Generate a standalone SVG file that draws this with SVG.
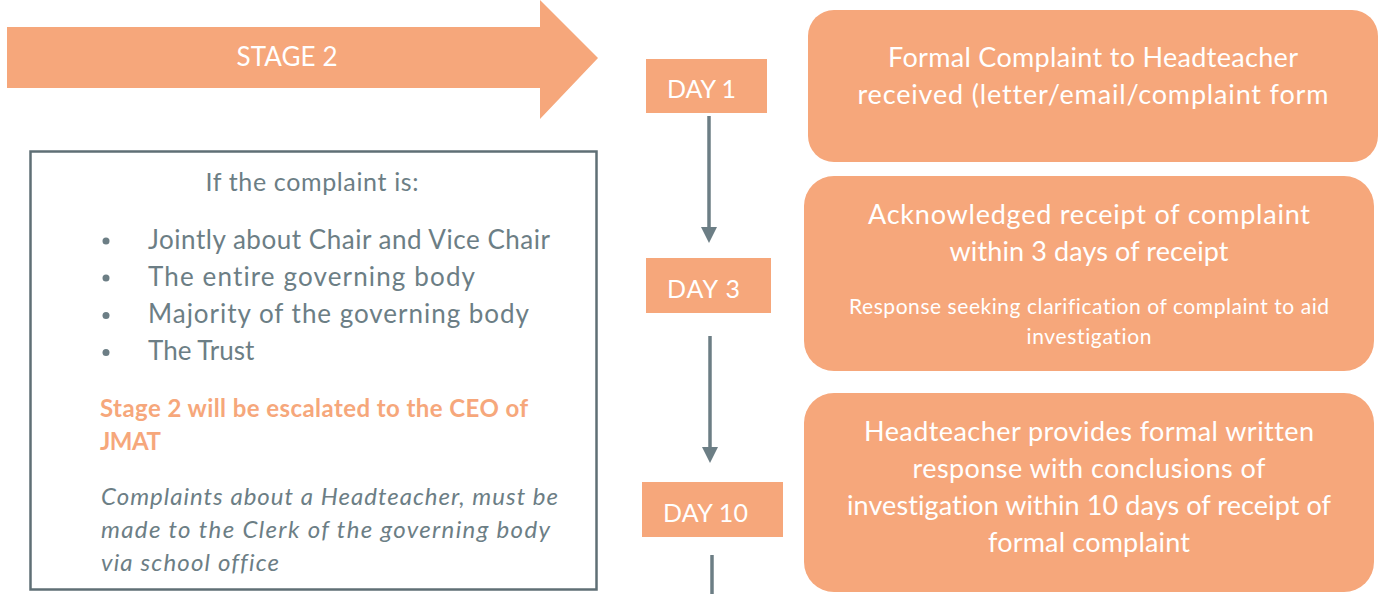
<svg xmlns="http://www.w3.org/2000/svg" width="1381" height="594" viewBox="0 0 1381 594">
<style>
text{font-variant-ligatures:none}
.fill{fill:#F6A77B}
.w{fill:#FFFFFF;font-family:Lato,"Liberation Sans",sans-serif;text-anchor:middle}
.g{fill:#6C7E85;font-family:Lato,"Liberation Sans",sans-serif}
.o{fill:#F6A77B;font-family:Lato,"Liberation Sans",sans-serif;font-weight:bold}
.conn{stroke:#6C7E85;stroke-width:3.5;fill:none}
</style>
<defs>
<marker id="ah" viewBox="0 0 10 10" refX="5" refY="5" markerWidth="4.6" markerHeight="4.6" orient="auto" markerUnits="strokeWidth">
<path d="M0,0 L10,5 L0,10 z" fill="#6C7E85"/>
</marker>
</defs>
<rect width="1381" height="594" fill="#FFFFFF"/>
<g id="stage2">
<path class="fill" d="M7,27 H540 V0 L598,58 L540,119 V88 H7 Z"/>
<text class="w" x="287" y="66" font-size="26" textLength="101">STAGE 2</text>
</g>
<g id="connectors">
<line class="conn" x1="709" y1="116" x2="709" y2="235" marker-end="url(#ah)"/>
<line class="conn" x1="710" y1="336" x2="710" y2="455" marker-end="url(#ah)"/>
<line class="conn" x1="712" y1="555" x2="712" y2="594"/>
</g>
<g id="day1">
<rect class="fill" x="646" y="59" width="121" height="54"/>
<text class="w" x="701.5" y="98" font-size="25" textLength="69">DAY 1</text>
</g>
<g id="day3">
<rect class="fill" x="646" y="258" width="125" height="55"/>
<text class="w" x="703.5" y="298" font-size="25" textLength="73">DAY 3</text>
</g>
<g id="day10">
<rect class="fill" x="642" y="482" width="141" height="55"/>
<text class="w" x="705.5" y="522" font-size="25" textLength="85">DAY 10</text>
</g>
<g id="box1">
<rect class="fill" x="808" y="10" width="570" height="152" rx="26"/>
<text class="w" x="1093" y="67" font-size="27" textLength="410">Formal Complaint to Headteacher</text>
<text class="w" x="1093" y="104" font-size="27" textLength="471">received (letter/email/complaint form</text>
</g>
<g id="box2">
<rect class="fill" x="804" y="176" width="570" height="195" rx="30"/>
<text class="w" x="1089" y="224" font-size="27" textLength="442">Acknowledged receipt of complaint</text>
<text class="w" x="1089" y="261" font-size="27" textLength="279">within 3 days of receipt</text>
<text class="w" x="1089" y="314" font-size="21" textLength="480">Response seeking clarification of complaint to aid</text>
<text class="w" x="1089" y="344" font-size="21" textLength="125">investigation</text>
</g>
<g id="box3">
<rect class="fill" x="804" y="393" width="570" height="199" rx="30"/>
<text class="w" x="1089" y="441" font-size="27" textLength="450">Headteacher provides formal written</text>
<text class="w" x="1089" y="478" font-size="27" textLength="353">response with conclusions of</text>
<text class="w" x="1089" y="515" font-size="27" textLength="484">investigation within 10 days of receipt of</text>
<text class="w" x="1089" y="552" font-size="27" textLength="202">formal complaint</text>
</g>
<g id="info">
<rect x="30.5" y="151.5" width="566" height="438" fill="#FFFFFF" stroke="#5F6F75" stroke-width="2.5"/>
<text class="g" x="312" y="191" font-size="25" text-anchor="middle" textLength="213">If the complaint is:</text>
<g font-size="26">
<circle cx="106" cy="241" r="3.5" fill="#6C7E85"/>
<text class="g" x="148" y="249" textLength="402">Jointly about Chair and Vice Chair</text>
<circle cx="106" cy="278" r="3.5" fill="#6C7E85"/>
<text class="g" x="148" y="286" textLength="327">The entire governing body</text>
<circle cx="106" cy="315.5" r="3.5" fill="#6C7E85"/>
<text class="g" x="148" y="323" textLength="381">Majority of the governing body</text>
<circle cx="106" cy="352.5" r="3.5" fill="#6C7E85"/>
<text class="g" x="148" y="360">The Trust</text>
</g>
<text class="o" x="100" y="417" font-size="24" textLength="428">Stage 2 will be escalated to the CEO of</text>
<text class="o" x="100" y="450" font-size="24" textLength="61">JMAT</text>
<g font-size="24" font-style="italic">
<text class="g" x="101" y="505" textLength="457">Complaints about a Headteacher, must be</text>
<text class="g" x="101" y="538" textLength="449">made to the Clerk of the governing body</text>
<text class="g" x="101" y="571" textLength="178">via school office</text>
</g>
</g>
</svg>
